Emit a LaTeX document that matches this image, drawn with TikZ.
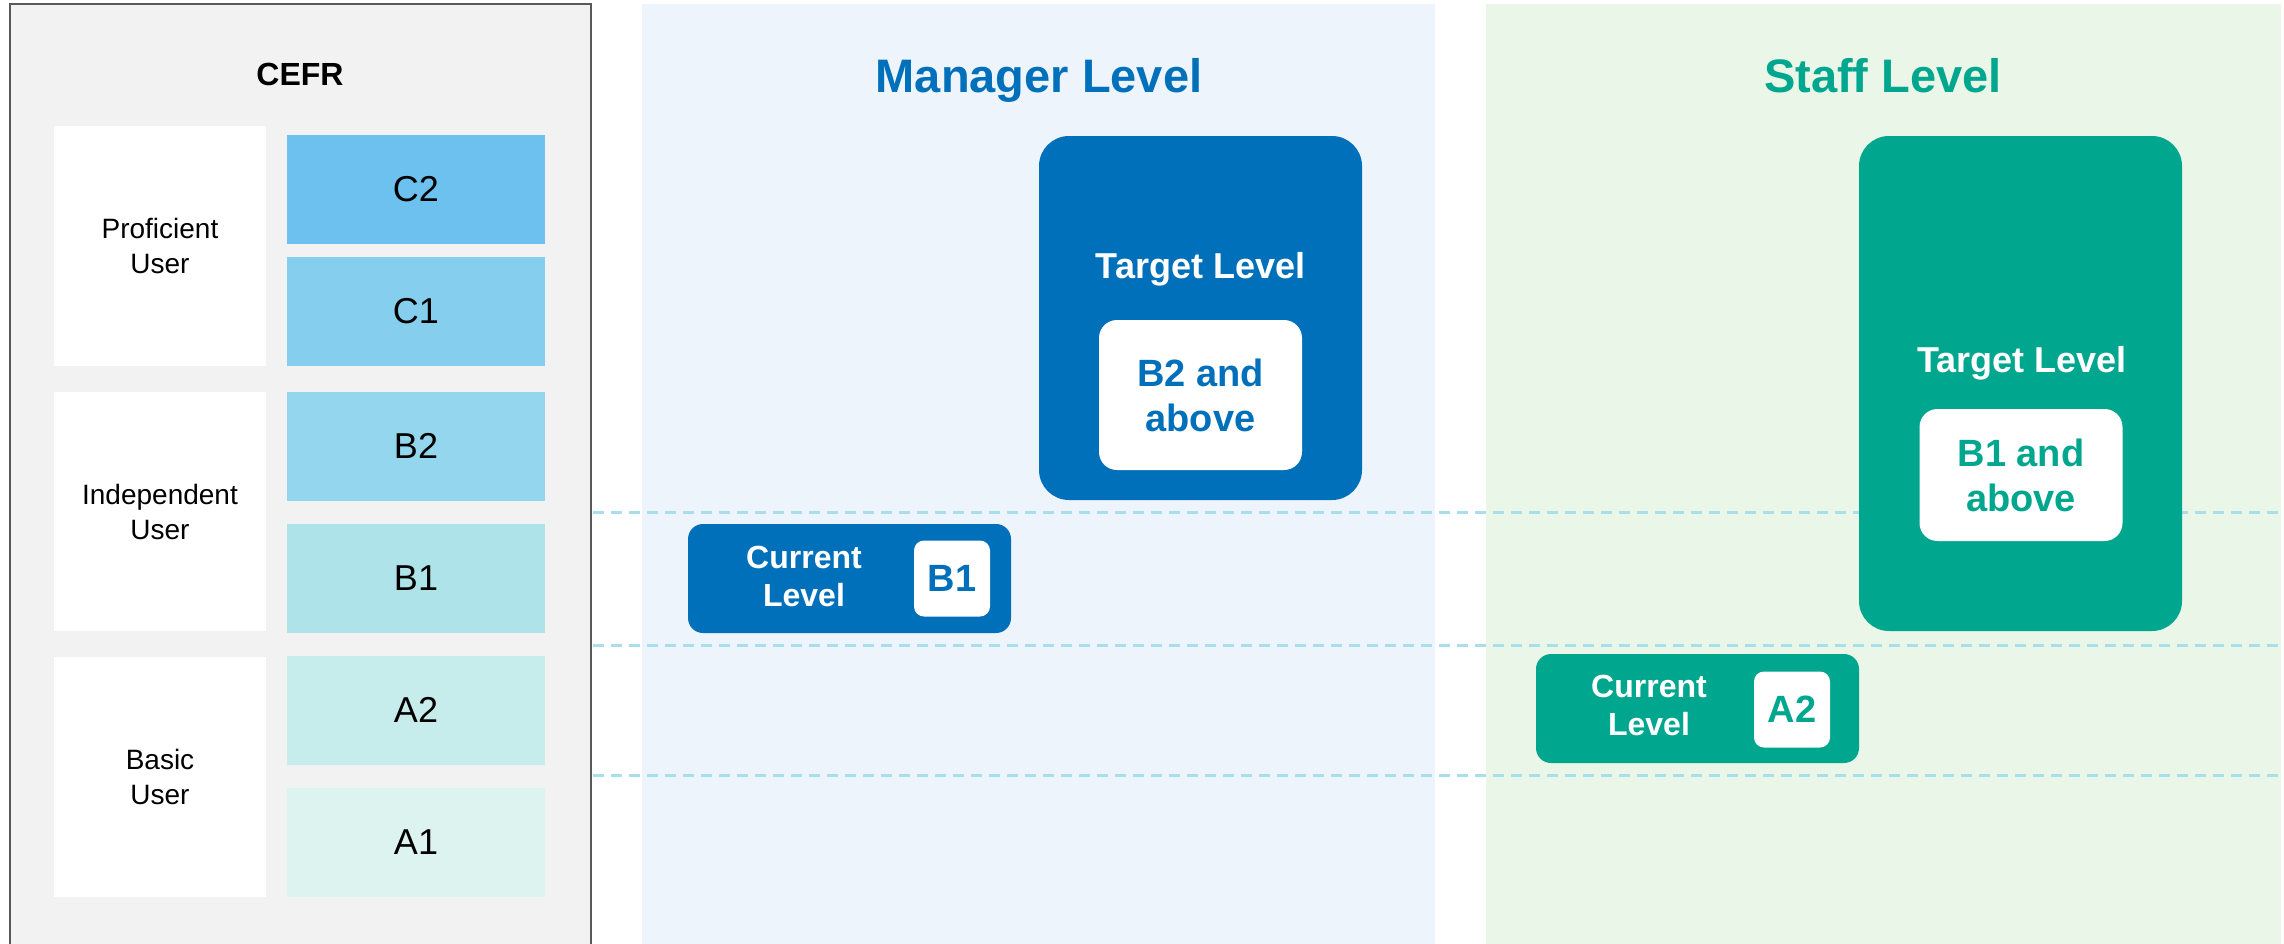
\documentclass[tikz,border=0pt]{standalone}
\usepackage{fontspec}
\setmainfont{Liberation Sans}
\usetikzlibrary{calc}

\definecolor{panelgray}{HTML}{F2F2F2}
\definecolor{framegray}{HTML}{595959}
\definecolor{mgrbg}{HTML}{EDF4FB}
\definecolor{mgrblue}{HTML}{0070BB}
\definecolor{staffbg}{HTML}{EAF6E7}
\definecolor{staffgreen}{HTML}{00A68E}
\definecolor{guidecyan}{HTML}{A9DFEA}
\definecolor{lvCtwo}{HTML}{6DC1EE}
\definecolor{lvCone}{HTML}{85CEEE}
\definecolor{lvBtwo}{HTML}{93D6EE}
\definecolor{lvBone}{HTML}{AEE3E9}
\definecolor{lvAtwo}{HTML}{C6EDEB}
\definecolor{lvAone}{HTML}{DDF3F0}

\newcommand{\fsz}[2]{\fontsize{#1}{#2}\selectfont}

\tikzset{
    usrbox/.style={fill=white, inner sep=0, minimum width=212, minimum height=240,
        align=center, font=\fsz{28}{35}},
    lvbox/.style={inner sep=0, minimum width=258, minimum height=109, font=\fsz{36}{43}},
    ttl/.style={anchor=base, font=\fsz{47}{56}\bfseries},
    tgtbox/.style={rounded corners=30, inner sep=0, minimum width=323},
    tgttxt/.style={anchor=base, text=white, font=\fsz{36}{43}\bfseries},
    goalbox/.style={fill=white, rounded corners=18, inner sep=0, minimum width=203,
        align=center, font=\fsz{38}{45}\bfseries},
    curbox/.style={rounded corners=15, inner sep=0, minimum width=323, minimum height=109},
    curtxt/.style={text=white, align=center, font=\fsz{32}{38}\bfseries},
    lvtag/.style={fill=white, rounded corners=10, inner sep=0, minimum width=76,
        minimum height=76, font=\fsz{38}{45}\bfseries},
    guide/.style={guidecyan, line width=3, dash pattern=on 11pt off 7pt}
}

\begin{document}
\begin{tikzpicture}[x=1pt, y=-1pt]
        \useasboundingbox (0,0) rectangle (2284,943);
        % panels
        \fill[panelgray] (10,4) rectangle (591,950);
        \draw[framegray, line width=2] (10,950) -- (10,4) -- (591,4) -- (591,950);
        \fill[mgrbg] (642,4) rectangle (1435,950);
        \fill[staffbg] (1486,4) rectangle (2281,950);
        % level guides
        \foreach \yy in {512,645,775}
            \draw[guide] (593,\yy) -- (2284,\yy);

        % CEFR scale
        \node[anchor=base, font=\fsz{32}{38}\bfseries] (cefr) at (300,85) {CEFR};
        \node[usrbox] (prof) at (160,246) {Proficient\\User};
        \node[usrbox, minimum height=239] (indep) at (160,511.5) {Independent\\User};
        \node[usrbox] (basic) at (160,777) {Basic\\User};
        \node[lvbox, fill=lvCtwo] (c2) at (416,189.5) {C2};
        \node[lvbox, fill=lvCone] (c1) at (416,311.5) {C1};
        \node[lvbox, fill=lvBtwo] (b2) at (416,446) {B2};
        \node[lvbox, fill=lvBone] (b1) at (416,578.5) {B1};
        \node[lvbox, fill=lvAtwo] (a2) at (416,710) {A2};
        \node[lvbox, fill=lvAone] (a1) at (416,842.5) {A1};

        % manager
        \node[ttl, text=mgrblue] (mgr) at (1039,92) {Manager Level};
        \node[tgtbox, fill=mgrblue, minimum height=364] (mtgt) at (1200.5,318) {};
        \node[tgttxt] (mtgtlbl) at (1200.5,278) {Target Level};
        \node[goalbox, text=mgrblue, minimum height=150] (mgoal) at (1200.5,395) {B2 and\\above};
        \node[curbox, fill=mgrblue] (mcur) at (849.5,578.5) {};
        \node[curtxt] (mcurlbl) at (804,576) {Current\\Level};
        \node[lvtag, text=mgrblue] (mlv) at (952,578.5) {B1};

        % staff
        \node[tgtbox, fill=staffgreen, minimum height=495] (stgt) at (2020.5,383.5) {};
        \node[ttl, text=staffgreen] (stf) at (1883,92) {Staff Level};
        \node[tgttxt] (stgtlbl) at (2022,372.5) {Target Level};
        \node[goalbox, text=staffgreen, minimum height=132] (sgoal) at (2021,475) {B1 and\\above};
        \node[curbox, fill=staffgreen] (scur) at (1697.5,708.5) {};
        \node[curtxt] (scurlbl) at (1649,705) {Current\\Level};
        \node[lvtag, text=staffgreen] (slv) at (1792,709.5) {A2};
\end{tikzpicture}
\end{document}
